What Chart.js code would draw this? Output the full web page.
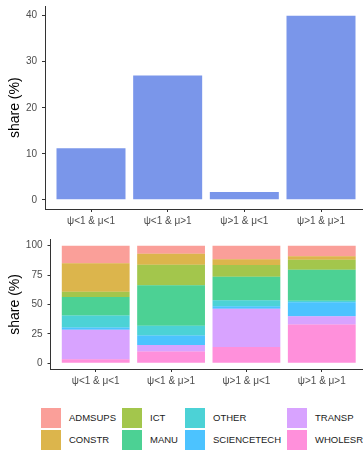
<!DOCTYPE html>
<html>
<head>
<meta charset="utf-8">
<script src="https://cdn.jsdelivr.net/npm/chart.js@4.4.1/dist/chart.umd.min.js"></script>
<style>
  html, body { margin: 0; padding: 0; background: #fff; overflow: hidden; width: 363px; height: 450px; }
  canvas { position: absolute; left: 0; }
  #topChart { top: 0; }
  #bottomChart { top: 230px; }
  .key { position: absolute; width: 20px; height: 20px; }
  .keyText { position: absolute; font: 9.5px "Liberation Sans", Arial, sans-serif; color: #1a1a1a; line-height: 20px; white-space: nowrap; }
</style>
</head>
<body>
<canvas id="topChart" width="367" height="230"></canvas>
<canvas id="bottomChart" width="367" height="160"></canvas>
<div id="legend"></div>
<script>
const groups = ['ψ<1 & μ<1', 'ψ<1 & μ>1', 'ψ>1 & μ<1', 'ψ>1 & μ>1'];
const shares = [11.2, 27.0, 1.7, 40.0];
const topTicks = [0, 10, 20, 30, 40];
const bottomTicks = [0, 25, 50, 75, 100];

const sectors = ['ADMSUPS', 'CONSTR', 'ICT', 'MANU', 'OTHER', 'SCIENCETECH', 'TRANSP', 'WHOLESRE'];
const admsups = [15.0, 6.8, 11.6, 8.9];
const constr = [24.3, 9.4, 4.9, 3.0];
const ict = [4.5, 17.4, 10.0, 8.6];
const manu = [15.7, 34.5, 19.9, 26.3];
const other = [10.2, 8.4, 5.1, 1.4];
const sciencetech = [1.8, 8.1, 2.3, 11.9];
const transp = [25.3, 5.4, 32.5, 7.1];
const wholesre = [3.2, 10.0, 13.7, 32.8];
const sectorShares = [admsups, constr, ict, manu, other, sciencetech, transp, wholesre];

const sectorColors = [
  'rgba(248,118,109,0.7)', 'rgba(205,150,0,0.7)', 'rgba(124,174,0,0.7)', 'rgba(0,190,103,0.7)',
  'rgba(0,191,196,0.7)', 'rgba(0,169,255,0.7)', 'rgba(199,124,255,0.7)', 'rgba(255,97,204,0.7)'
];

const fontFamily = '"Liberation Sans", Arial, sans-serif';

const makeX = () => ({
  type: 'linear',
  min: -0.6,
  max: 3.6,
  offset: false,
  stacked: true,
  grid: { offset: false, drawOnChartArea: false, drawTicks: true, tickLength: 3, color: '#333' },
  border: { color: '#333', width: 1 },
  ticks: {
    padding: 3,
    color: '#4d4d4d',
    font: { family: fontFamily, size: 10 },
    maxRotation: 0,
    autoSkip: false,
    callback: (v) => groups[v]
  },
  afterBuildTicks: (s) => { s.ticks = groups.map((g, i) => ({ value: i })); },
  afterFit: (s) => { s.height = 21; s.paddingLeft = 0; s.paddingRight = 0; }
});

const makeY = (min, max, ticks, width) => ({
  type: 'linear',
  min: min,
  max: max,
  stacked: true,
  grid: { drawOnChartArea: false, drawTicks: true, tickLength: 3, color: '#333' },
  border: { color: '#333', width: 1 },
  title: {
    display: true,
    text: 'share (%)',
    color: '#000',
    font: { family: fontFamily, size: 14 },
    padding: { top: 6.6, bottom: 0 }
  },
  ticks: {
    padding: 5,
    color: '#4d4d4d',
    font: { family: fontFamily, size: 10 }
  },
  afterBuildTicks: (s) => { s.ticks = ticks.map(v => ({ value: v })); },
  afterFit: (s) => { s.width = width; s.paddingTop = 0; s.paddingBottom = 0; }
});

const common = {
  responsive: false,
  animation: false,
  plugins: { legend: { display: false }, tooltip: { enabled: false } }
};

new Chart(document.getElementById('topChart'), {
  type: 'bar',
  data: {
    datasets: [{
      data: shares.map((v, i) => ({ x: i, y: v })),
      backgroundColor: 'rgba(65,105,225,0.7)',
      borderWidth: 0,
      barPercentage: 0.9,
      categoryPercentage: 1
    }]
  },
  options: {
    ...common,
    layout: { padding: { top: 6.5, left: 0, right: 0, bottom: 0 } },
    scales: { x: makeX(), y: makeY(-2, 42, topTicks, 45) }
  }
});

const stackSets = sectors.map((s, k) => ({
  label: s,
  data: sectorShares[k].map((v, i) => ({ x: i, y: v })),
  backgroundColor: sectorColors[k],
  borderWidth: 0,
  barPercentage: 0.9,
  categoryPercentage: 1
})).reverse();

new Chart(document.getElementById('bottomChart'), {
  type: 'bar',
  data: { datasets: stackSets },
  options: {
    ...common,
    layout: { padding: { top: 9.8, left: 0, right: 0, bottom: 0 } },
    scales: { x: makeX(), y: makeY(-5, 105, bottomTicks, 50.5) }
  }
});

// legend, filled column by column like ggplot
const legend = document.getElementById('legend');
const colLeft = [41, 122, 185, 287];
const rowTop = [408, 430];
sectors.forEach((s, k) => {
  const col = Math.floor(k / 2);
  const row = k % 2;
  const key = document.createElement('div');
  key.className = 'key';
  key.style.left = colLeft[col] + 'px';
  key.style.top = rowTop[row] + 'px';
  key.style.background = sectorColors[k];
  legend.appendChild(key);
  const txt = document.createElement('div');
  txt.className = 'keyText';
  txt.style.left = (colLeft[col] + 28) + 'px';
  txt.style.top = rowTop[row] + 'px';
  txt.textContent = s;
  legend.appendChild(txt);
});
</script>
</body>
</html>
